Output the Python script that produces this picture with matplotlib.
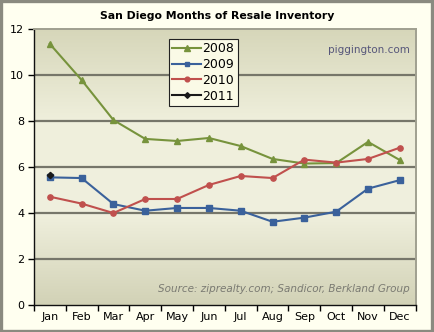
import numpy as np
import matplotlib
matplotlib.use('Agg')
import matplotlib.pyplot as plt
from matplotlib.colors import LinearSegmentedColormap
from matplotlib.patches import Rectangle

months = ['Jan', 'Feb', 'Mar', 'Apr', 'May', 'Jun',
          'Jul', 'Aug', 'Sep', 'Oct', 'Nov', 'Dec']
y2008 = [11.35, 9.78, 8.04, 7.22, 7.13, 7.26, 6.91, 6.35, 6.15, 6.17, 7.09, 6.30]
y2009 = [5.55, 5.52, 4.39, 4.10, 4.22, 4.22, 4.10, 3.62, 3.80, 4.06, 5.06, 5.43]
y2010 = [4.71, 4.41, 4.00, 4.61, 4.61, 5.22, 5.61, 5.52, 6.32, 6.19, 6.35, 6.84]
y2011 = [5.65]

plt.rcParams['font.family'] = 'DejaVu Sans'

fig = plt.figure(figsize=(4.34, 3.32), dpi=100, facecolor='#fffff0')
ax = fig.add_axes([0.078, 0.081, 0.880, 0.832])

# border of the whole picture
fig.patches.append(Rectangle((0.003, 0.004), 0.993, 0.992, transform=fig.transFigure,
                             fill=False, edgecolor='#8a8a80', linewidth=2.4))

# plot area gradient
cmap = LinearSegmentedColormap.from_list('bg', ['#d6d6b9', '#efefdc', '#f0f0de', '#d2d2b6'])
grad = np.linspace(0, 1, 256).reshape(-1, 1)
ax.imshow(grad, cmap=cmap, aspect='auto', extent=[0, 1, 0, 1],
          transform=ax.transAxes, zorder=0)

x = np.arange(len(months))
for yv in [2, 4, 6, 8, 10]:
    ax.axhline(yv, color='#76766a', linewidth=1.6, zorder=1)

ax.plot(x, y2008, color='#77933c', marker='^', markersize=4.2, linewidth=1.5, label='2008', zorder=3)
ax.plot(x, y2009, color='#3a619b', marker='s', markersize=3.8, linewidth=1.5, label='2009', zorder=3)
ax.plot(x, y2010, color='#c0504d', marker='o', markersize=3.8, linewidth=1.5, label='2010', zorder=3)
ax.plot(x[:len(y2011)], y2011, color='#1a1a1a', marker='D', markersize=3.2, linewidth=1.5, label='2011', zorder=4)

ax.set_xlim(-0.5, 11.5)
ax.set_ylim(0, 12)
ax.set_yticks([0, 2, 4, 6, 8, 10, 12])
ax.set_xticks(x)
ax.set_xticklabels(months)
ax.set_xticks(np.arange(-0.5, 12, 1), minor=True)
ax.tick_params(axis='x', which='major', length=0, labelsize=8, pad=5)
ax.tick_params(axis='x', which='minor', length=4, direction='out', width=1)
ax.tick_params(axis='y', length=4, direction='out', width=1, labelsize=8, pad=3)

for s in ['left', 'bottom']:
    ax.spines[s].set_color('#111111')
    ax.spines[s].set_linewidth(1.0)
for s in ['top', 'right']:
    ax.spines[s].set_color('#a0a090')
    ax.spines[s].set_linewidth(1.4)

fig.text(0.5, 0.952, 'San Diego Months of Resale Inventory', ha='center', va='center',
         fontsize=7.8, fontweight='bold')
ax.text(0.985, 0.925, 'piggington.com', transform=ax.transAxes, ha='right', va='center',
        fontsize=7.5, color='#56567a')
ax.text(0.985, 0.06, 'Source: ziprealty.com; Sandicor, Berkland Group', transform=ax.transAxes,
        ha='right', va='center', fontsize=7.5, style='italic', color='#7a7a72')

leg = ax.legend(loc='upper left', bbox_to_anchor=(0.353, 0.965), fontsize=9,
                frameon=True, fancybox=False, handlelength=2.3, handletextpad=0.1,
                labelspacing=0.22, borderpad=0.3, borderaxespad=0, markerscale=0.9)
leg.get_frame().set_edgecolor('#222222')
leg.get_frame().set_facecolor('#fafae6')
leg.get_frame().set_linewidth(0.8)
leg.get_frame().set_alpha(1)

fig.savefig('out.png', dpi=100, facecolor=fig.get_facecolor())
